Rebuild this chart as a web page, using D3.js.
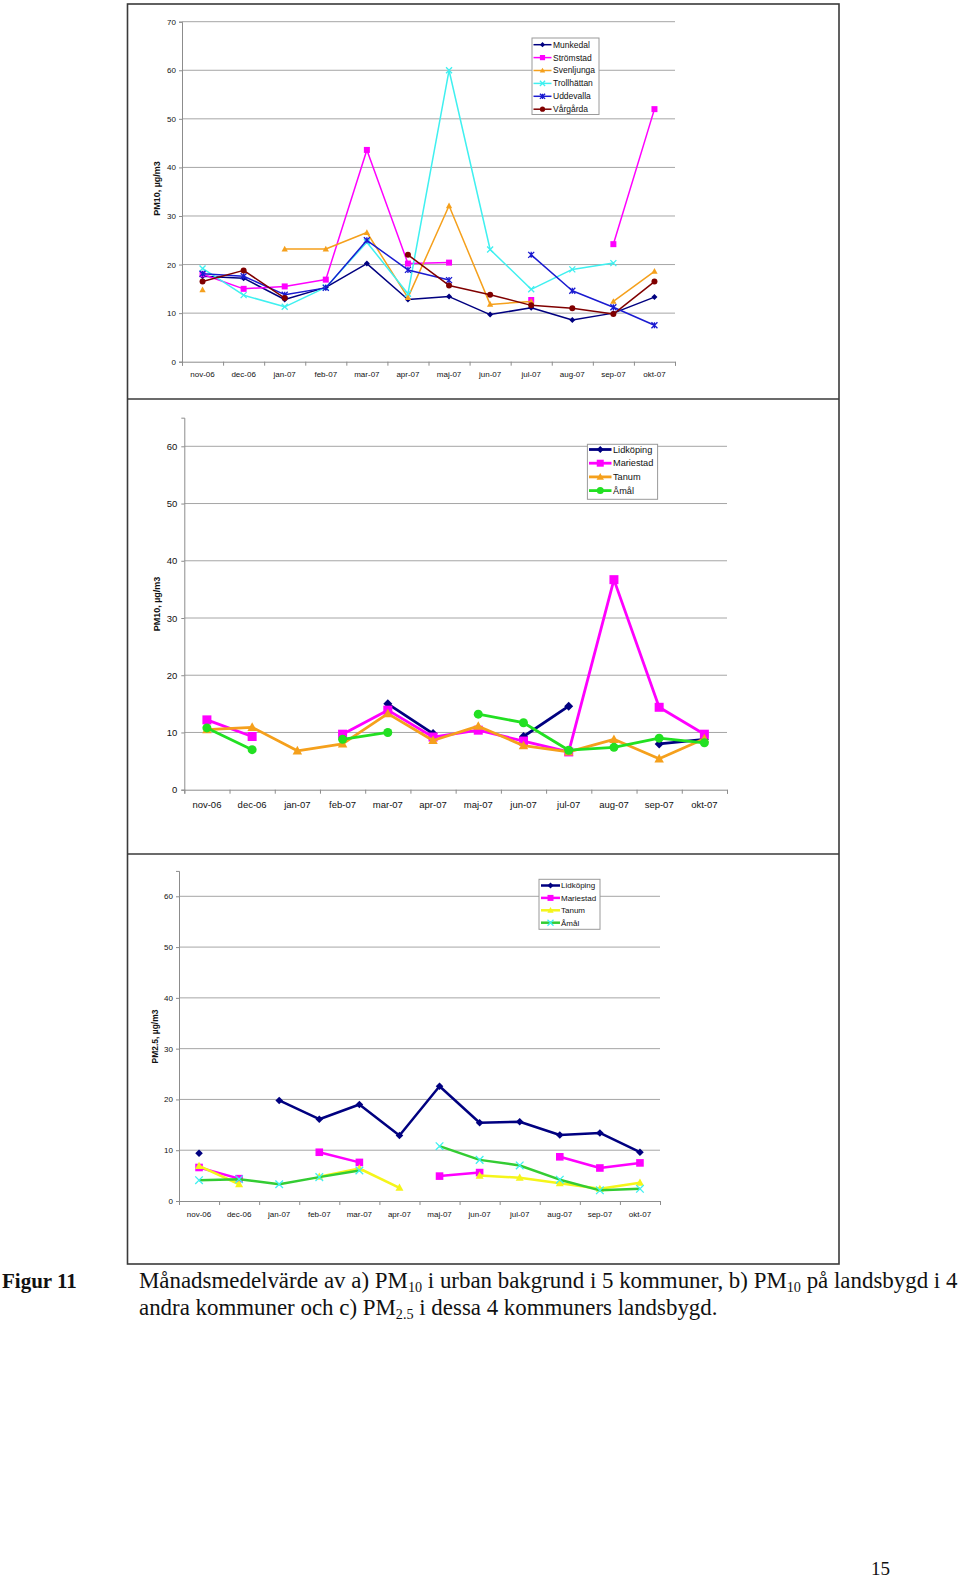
<!DOCTYPE html>
<html><head><meta charset="utf-8">
<script src="https://cdn.jsdelivr.net/npm/d3@7"></script>
<style>
body{margin:0;background:#fff}
svg{display:block}
text{font-family:"Liberation Sans",Arial,sans-serif;fill:#111}
</style>
</head><body>
<svg id="chart" width="960" height="1578"></svg>
<script>
// ---------- DATA ----------
const months = ["nov-06","dec-06","jan-07","feb-07","mar-07","apr-07","maj-07","jun-07","jul-07","aug-07","sep-07","okt-07"];

// a) PM10 urban background
const seriesA = ["Munkedal","Strömstad","Svenljunga","Trollhättan","Uddevalla","Vårgårda"];
const munkedal    = [17.6,17.2,12.8,15.3,20.2,12.8,13.4,9.7,11.1,8.6,10.0,13.3];
const stromstad   = [18.0,15.0,15.5,16.9,43.6,20.2,20.4,null,12.7,null,24.2,52.0];
const svenljunga  = [14.8,null,23.2,23.2,26.6,13.2,32.1,11.8,12.4,null,12.4,18.6];
const trollhattan = [19.2,13.7,11.3,15.3,24.6,14.0,60.0,23.1,14.9,19.0,20.3,null];
const uddevalla   = [18.1,17.6,13.8,15.2,25.0,18.9,16.8,null,22.0,14.6,11.2,7.5];
const vargarda    = [16.5,18.8,13.1,null,null,22.0,15.7,13.8,11.6,11.0,9.8,16.5];

// b) PM10 rural
const seriesB = ["Lidköping","Mariestad","Tanum","Åmål"];
const lidkopingPM10 = [null,null,null,null,15.0,9.8,null,9.3,14.6,null,8.0,8.8];
const mariestadPM10 = [12.2,9.3,null,9.7,13.9,9.2,10.4,8.5,6.6,36.7,14.4,9.7];
const tanumPM10     = [10.5,10.9,6.8,8.0,13.3,8.6,11.1,7.7,6.6,8.8,5.4,8.9];
const amalPM10      = [10.8,7.0,null,8.8,10.0,null,13.2,11.7,6.9,7.4,9.0,8.2];

// c) PM2.5 rural
const seriesC = ["Lidköping","Mariestad","Tanum","Åmål"];
const lidkopingPM25 = [9.4,null,19.8,16.1,19.0,12.9,22.6,15.4,15.6,13.0,13.4,9.6];
const mariestadPM25 = [6.6,4.4,null,9.6,7.6,null,4.9,5.6,null,8.7,6.5,7.5];
const tanumPM25     = [6.9,3.3,null,4.8,6.4,2.6,null,5.0,4.6,3.5,2.4,3.6];
const amalPM25      = [4.1,4.3,3.3,4.7,6.0,null,10.8,8.1,7.0,4.2,2.1,2.4];

const ticksA = [0,10,20,30,40,50,60,70];
const ticksBC = [0,10,20,30,40,50,60];

// ---------- DRAWING ----------
const svg = d3.select("#chart");

function shapePath(type, s){
  switch(type){
    case "diamond": return `M0,${-s}L${s},0L0,${s}L${-s},0Z`;
    case "square": return `M${-s},${-s}H${s}V${s}H${-s}Z`;
    case "triangle": return `M0,${-s*1.1}L${s*1.05},${s*0.8}L${-s*1.05},${s*0.8}Z`;
    case "x": return `M${-s},${-s}L${s},${s}M${-s},${s}L${s},${-s}`;
    case "asterisk": return `M${-s},${-s}L${s},${s}M${-s},${s}L${s},${-s}M0,${-s}L0,${s}`;
  }
}
function drawMarker(g, type, cx, cy, s, color, mcolor){
  const c = mcolor || color;
  if(type === "circle"){
    g.append("circle").attr("cx",cx).attr("cy",cy).attr("r",s).attr("fill",c);
  } else if(type === "x" || type === "asterisk"){
    g.append("path").attr("d",shapePath(type,s)).attr("transform",`translate(${cx},${cy})`)
      .attr("fill","none").attr("stroke",c).attr("stroke-width",1.3);
  } else {
    g.append("path").attr("d",shapePath(type,s)).attr("transform",`translate(${cx},${cy})`).attr("fill",c);
  }
}

function drawPanel(cfg){
  const g = svg.append("g");
  const x = d3.scaleBand().domain(months).range([cfg.x0, cfg.x1]).padding(0);
  const y = d3.scaleLinear().domain([0, cfg.ymax]).range([cfg.yb, cfg.yt]);
  const cx = m => x(m) + x.bandwidth()/2;

  g.append("g").selectAll("line").data(cfg.ticks.filter(t=>t>0)).join("line")
    .attr("x1",cfg.x0).attr("x2",cfg.x1).attr("y1",d=>y(d)).attr("y2",d=>y(d))
    .attr("stroke","#a6a6a6").attr("stroke-width",1);

  const ya = g.append("g").attr("transform",`translate(${cfg.x0},0)`)
    .call(d3.axisLeft(y).tickValues(cfg.ticks).tickSize(3).tickPadding(cfg.ypad));
  ya.select(".domain").attr("stroke","#8c8c8c");
  ya.selectAll(".tick line").attr("stroke","#8c8c8c");
  ya.selectAll("text").attr("font-size",cfg.fs).attr("font-family","Liberation Sans, Arial, sans-serif").attr("fill","#222");

  const xb = d3.scaleLinear().domain([0, months.length]).range([cfg.x0, cfg.x1]);
  const xa = g.append("g").attr("transform",`translate(0,${cfg.yb})`)
    .call(d3.axisBottom(xb).tickValues(d3.range(0, months.length+1)).tickSize(4).tickFormat(""));
  xa.select(".domain").attr("stroke","#8c8c8c");
  xa.selectAll(".tick line").attr("stroke","#8c8c8c");
  xa.selectAll(".tick text").remove();
  const xl = g.append("g").attr("transform",`translate(0,${cfg.yb})`)
    .call(d3.axisBottom(x).tickSize(0).tickPadding(cfg.xpad));
  xl.select(".domain").remove();
  xl.selectAll("text").attr("font-size",cfg.fs).attr("font-family","Liberation Sans, Arial, sans-serif").attr("fill","#222");

  g.append("text").attr("transform",`translate(${cfg.tx},${cfg.ty}) rotate(-90)`)
    .attr("text-anchor","middle").attr("font-weight","bold").attr("font-size",cfg.tfs)
    .text(cfg.title);

  cfg.series.forEach(s => {
    const pts = months.map((m,i)=>({m, v:s.values[i]}));
    const line = d3.line().defined(d=>d.v!=null).x(d=>cx(d.m)).y(d=>y(d.v));
    g.append("path").datum(pts).attr("d",line).attr("fill","none")
      .attr("stroke",s.color).attr("stroke-width",cfg.lw).attr("stroke-linejoin","round");
    const mg = g.append("g");
    pts.filter(d=>d.v!=null).forEach(d => drawMarker(mg, s.marker, cx(d.m), y(d.v), cfg.ms, s.color, s.mcolor));
  });

  const L = cfg.legend;
  const lg = g.append("g");
  lg.append("rect").attr("x",L.x).attr("y",L.y).attr("width",L.w).attr("height",L.h)
    .attr("fill","#fff").attr("stroke","#9a9a9a").attr("stroke-width",1);
  cfg.series.forEach((s,i)=>{
    const yy = L.row0 + i*L.rowH;
    lg.append("line").attr("x1",L.lx0).attr("x2",L.lx1).attr("y1",yy).attr("y2",yy)
      .attr("stroke",s.color).attr("stroke-width",cfg.lw);
    drawMarker(lg, s.marker, (L.lx0+L.lx1)/2, yy, L.ms, s.color, s.mcolor);
    lg.append("text").attr("x",L.tx).attr("y",yy).attr("dy","0.35em")
      .attr("font-size",L.fs).text(s.name);
  });
}

const frame = svg.append("g").attr("fill","none").attr("stroke","#3a3a3a").attr("stroke-width",1.6);
frame.append("rect").attr("x",127.5).attr("y",4).attr("width",711.5).attr("height",1260);
frame.append("line").attr("x1",127.5).attr("x2",839).attr("y1",399).attr("y2",399);
frame.append("line").attr("x1",127.5).attr("x2",839).attr("y1",854).attr("y2",854);

const colNavy="#000080", colMag="#ff00ff", colOrange="#f5a01c", colCyan="#3ff0f0",
      colBlue="#1a1ad0", colDarkRed="#800000", colGreen="#22e022", colGreen2="#33cc33", colYellow="#f5f51a";

drawPanel({
  x0:182, x1:675, yb:361.7, yt:21.7, ymax:70, ticks:ticksA, fs:8, ypad:3, xpad:10,
  title:"PM10, µg/m3", tx:160, ty:188.5, tfs:9,
  lw:1.5, ms:3,
  series:[
    {name:seriesA[0], values:munkedal, color:colNavy, marker:"diamond"},
    {name:seriesA[1], values:stromstad, color:colMag, marker:"square"},
    {name:seriesA[2], values:svenljunga, color:colOrange, marker:"triangle"},
    {name:seriesA[3], values:trollhattan, color:colCyan, marker:"x"},
    {name:seriesA[4], values:uddevalla, color:colBlue, marker:"asterisk"},
    {name:seriesA[5], values:vargarda, color:colDarkRed, marker:"circle"}
  ],
  legend:{x:532, y:38, w:67, h:76.5, row0:44.7, rowH:12.9, lx0:533.5, lx1:551.5, tx:553, fs:8.5, ms:2.6}
});

drawPanel({
  x0:184.3, x1:727, yb:789.7, yt:789.7-65*343.4/60, ymax:65, ticks:ticksBC, fs:9.5, ypad:4, xpad:12,
  title:"PM10, µg/m3", tx:160, ty:604, tfs:9,
  lw:2.8, ms:4.5,
  series:[
    {name:seriesB[0], values:lidkopingPM10, color:colNavy, marker:"diamond"},
    {name:seriesB[1], values:mariestadPM10, color:colMag, marker:"square"},
    {name:seriesB[2], values:tanumPM10, color:colOrange, marker:"triangle"},
    {name:seriesB[3], values:amalPM10, color:colGreen, marker:"circle"}
  ],
  legend:{x:587.4, y:444.3, w:70.2, h:55, row0:449.5, rowH:13.7, lx0:589, lx1:611.5, tx:613, fs:9.2, ms:3.5}
});

drawPanel({
  x0:179, x1:660, yb:1201, yt:1201-65*304.7/60, ymax:65, ticks:ticksBC, fs:8, ypad:3, xpad:10,
  title:"PM2.5, µg/m3", tx:158, ty:1036.5, tfs:8.5,
  lw:2.5, ms:3.8,
  series:[
    {name:seriesC[0], values:lidkopingPM25, color:colNavy, marker:"diamond"},
    {name:seriesC[1], values:mariestadPM25, color:colMag, marker:"square"},
    {name:seriesC[2], values:tanumPM25, color:colYellow, marker:"triangle"},
    {name:seriesC[3], values:amalPM25, color:colGreen2, marker:"x", mcolor:colCyan}
  ],
  legend:{x:539, y:879.3, w:61, h:50, row0:885.5, rowH:12.4, lx0:541, lx1:560, tx:561, fs:8, ms:3}
});

// ---------- CAPTION ----------
const serif = "Liberation Serif, Times New Roman, serif";
svg.append("text").attr("x",2).attr("y",1288).attr("font-weight","bold")
  .attr("font-size",21).style("font-family",serif).text("Figur 11");

function capLine(yPos, parts){
  const t = svg.append("text").attr("x",139).attr("y",yPos).style("font-family",serif).attr("font-size",21);
  let pendingDy = 0;
  parts.forEach(p=>{
    if(typeof p === "string"){
      const ts = t.append("tspan").text(p);
      if(pendingDy) { ts.attr("dy",pendingDy); pendingDy = 0; }
    } else {
      t.append("tspan").attr("dy",4).attr("font-size","0.62em").text(p.sub);
      pendingDy = -4;
    }
  });
  return t;
}
const c1 = capLine(1288, ["Månadsmedelvärde av a) PM",{sub:"10"}," i urban bakgrund i 5 kommuner, b) PM",{sub:"10"}," på landsbygd i 4"]);
const c2 = capLine(1315, ["andra kommuner och c) PM",{sub:"2.5"}," i dessa 4 kommuners landsbygd."]);
const w1 = c1.node().getComputedTextLength();
const fsFit = 21 * 819 / w1;
c1.attr("font-size",fsFit); c2.attr("font-size",fsFit);

svg.append("text").attr("x",871).attr("y",1575).style("font-family",serif).attr("font-size",19).text("15");
</script>
</body></html>
